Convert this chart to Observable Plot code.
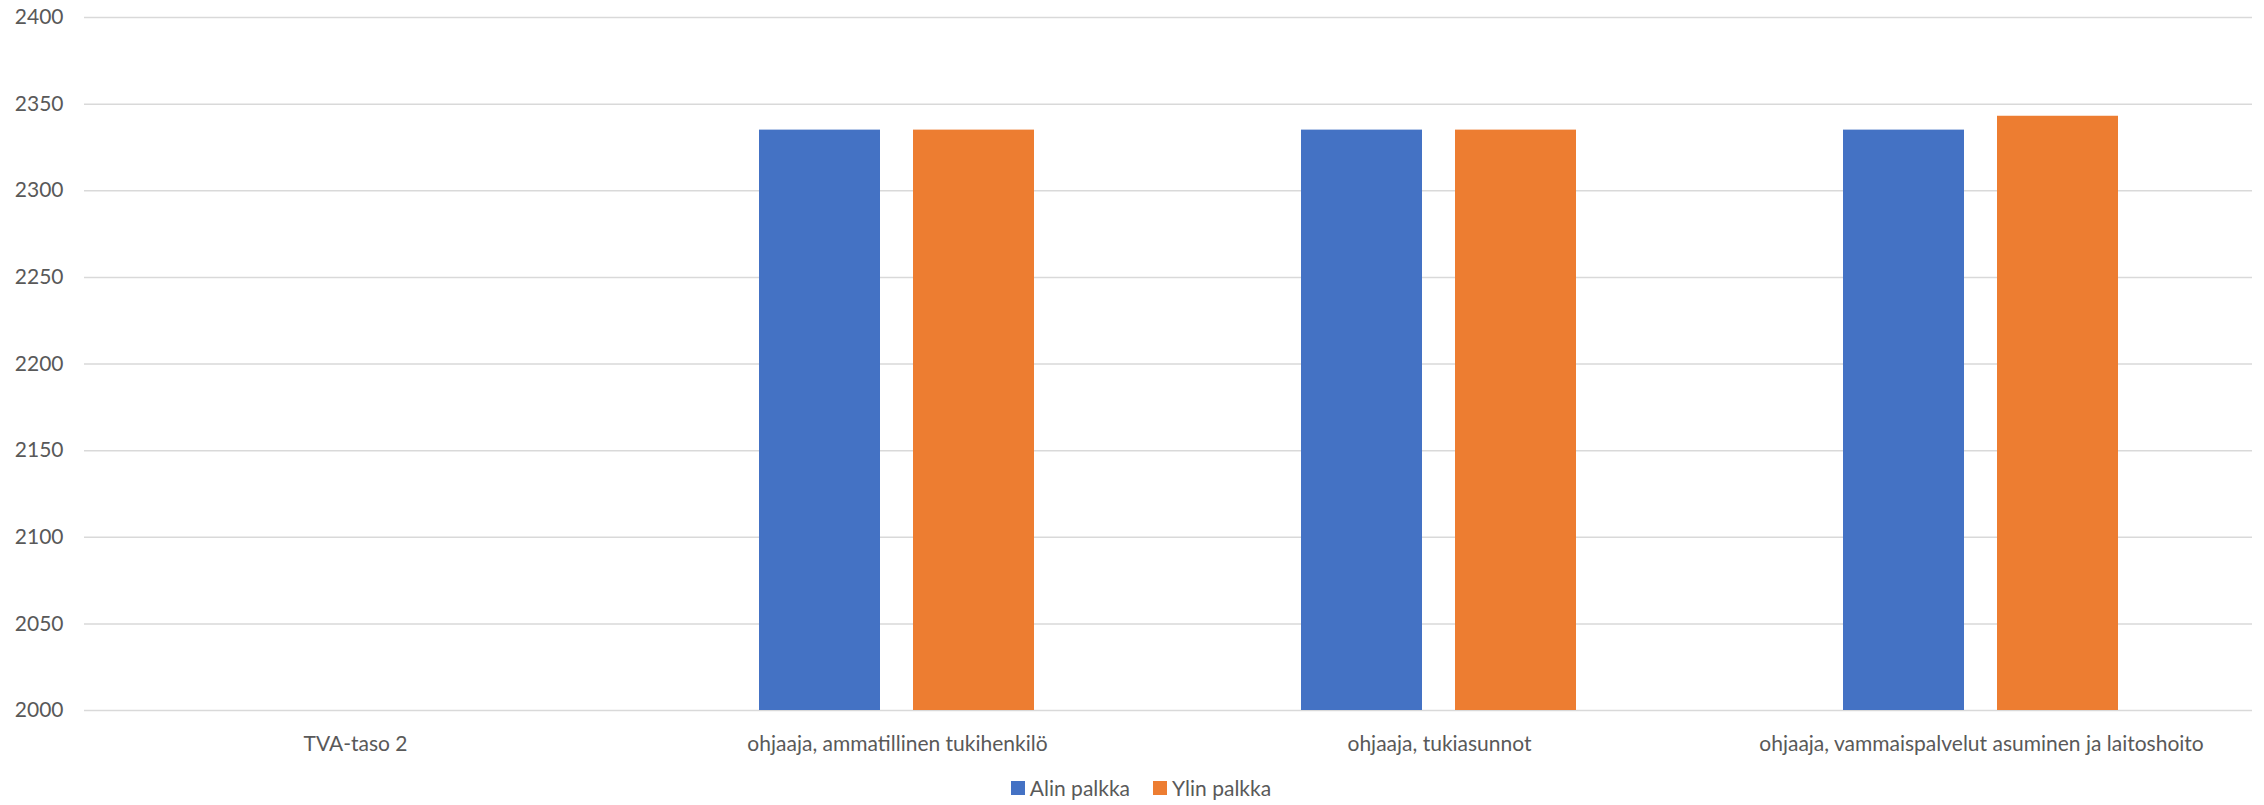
<!DOCTYPE html>
<html><head><meta charset="utf-8">
<script src="https://cdn.jsdelivr.net/npm/d3@7"></script>
<script src="https://cdn.jsdelivr.net/npm/@observablehq/plot@0.6"></script>
<style>
body{margin:0;background:#fff;font-family:Lato, sans-serif;}
#legend{display:flex;justify-content:center;align-items:center;gap:23px;height:35px;font-size:21px;color:#595959;padding-left:18px;}
#legend .item{display:flex;align-items:center;gap:5px;}
#legend .sw{width:14px;height:14px;display:inline-block;}
</style>
</head><body><div id="chart"></div><div id="legend"></div>
<script>
const categories = ["TVA-taso 2", "ohjaaja, ammatillinen tukihenkilö", "ohjaaja, tukiasunnot", "ohjaaja, vammaispalvelut asuminen ja laitoshoito"];
const series = ["Alin palkka", "Ylin palkka"];
const alinPalkka = [null, 2335, 2335, 2335];
const ylinPalkka = [null, 2335, 2335, 2343];
const yTicks = [2000, 2050, 2100, 2150, 2200, 2250, 2300, 2350, 2400];
const colors = ["#4472C4", "#ED7D31"];

const data = categories.flatMap((c, i) => [
  {category: c, series: series[0], value: alinPalkka[i]},
  {category: c, series: series[1], value: ylinPalkka[i]}
]);

const chart = Plot.plot({
  width: 2264, height: 770,
  marginLeft: 83, marginRight: 12, marginTop: 17, marginBottom: 60,
  style: {fontFamily: "Lato, sans-serif", fontSize: "21px", color: "#595959", background: "white"},
  fx: {domain: categories, padding: 0, label: null, axis: "bottom", tickSize: 0, tickPadding: 26},
  x: {domain: series, paddingInner: 0.213, paddingOuter: 0.855, axis: null},
  y: {domain: [2000, 2400], ticks: yTicks, tickSize: 0, tickPadding: 21, label: null, tickFormat: "d"},
  color: {domain: series, range: colors},
  marks: [
    Plot.ruleY(yTicks, {stroke: "#d9d9d9", strokeWidth: 1.5}),
    Plot.barY(data, {fx: "category", x: "series", y: "value", fill: "series", clip: true})
  ]
});
document.getElementById("chart").appendChild(chart);

const legend = document.getElementById("legend");
series.forEach((s, i) => {
  const item = document.createElement("div");
  item.className = "item";
  const sw = document.createElement("span");
  sw.className = "sw";
  sw.style.background = colors[i];
  const t = document.createElement("span");
  t.textContent = s;
  item.appendChild(sw); item.appendChild(t);
  legend.appendChild(item);
});
</script>
</body></html>
